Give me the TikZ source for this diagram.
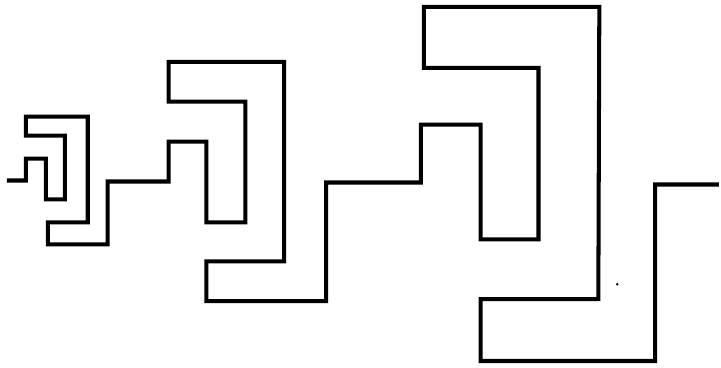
\documentclass[tikz,border=0pt]{standalone}
\usepackage{tikz}
\definecolor{ink}{HTML}{000000}
\definecolor{paper}{HTML}{FFFFFF}

\begin{document}
\begin{tikzpicture}[x=0.02cm,y=-0.02cm,
    trace/.style={ink,line width=2.3pt,line join=miter}]
        \fill[paper] (0,0) rectangle (721,369);
        % first (small) turn
        \draw[trace] (7,181) -- (26,181) -- (26,159) -- (46,159) -- (46,200) -- (65,200)
          -- (65,136) -- (26,136) -- (26,117) -- (88,117) -- (88,223) -- (48,223)
          -- (48,245) -- (108,245) -- (108,182)
        % second turn
          -- (169,182) -- (169,142) -- (207,142) -- (207,223) -- (246,223) -- (246,102)
          -- (169,102) -- (169,62) -- (285,62) -- (285,262) -- (207,262) -- (207,302)
          -- (327,302) -- (327,183)
        % third (large) turn
          -- (422,183) -- (422,125) -- (482,125) -- (482,240) -- (540,240) -- (540,68)
          -- (425,68) -- (425,7) -- (601,7) -- (600,300) -- (482,300) -- (482,362)
          -- (657,362) -- (657,185) -- (721,185);
        \fill[ink] (619,285) circle[radius=1.4];
      \end{tikzpicture}
\end{document}
